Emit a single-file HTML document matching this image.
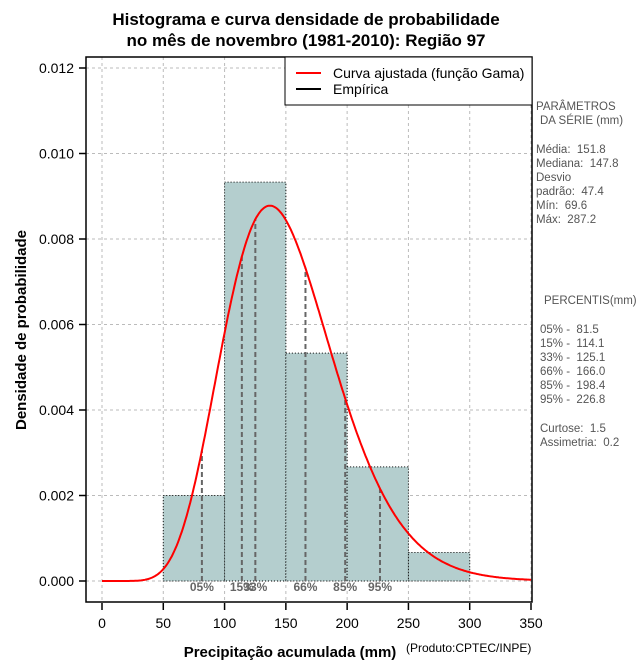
<!DOCTYPE html>
<html><head><meta charset="utf-8"><style>
body{margin:0;background:#fff}
svg{display:block;font-family:"Liberation Sans",sans-serif}
#stats text{white-space:pre}
</style></head><body>
<svg id="c" width="640" height="660">
<text x="306" y="25" font-size="17" font-weight="bold" text-anchor="middle">Histograma e curva densidade de probabilidade</text>
<text x="306" y="46" font-size="17" font-weight="bold" text-anchor="middle">no mês de novembro (1981-2010): Região 97</text>
<g id="grid"></g><g id="bars"></g><g id="pct"></g>
<path id="curve" fill="none" stroke="#f00" stroke-width="2"></path>
<rect x="86" y="57" width="446" height="545" fill="none" stroke="#000" stroke-width="1.5"/>
<g id="axes"></g>
<g>
<rect x="285" y="57" width="247" height="48" fill="#fff" stroke="#000"/>
<line x1="296" y1="73" x2="321" y2="73" stroke="#f00" stroke-width="2"/>
<text x="333" y="78" font-size="14">Curva ajustada (função Gama)</text>
<line x1="296" y1="89" x2="321" y2="89" stroke="#000" stroke-width="2"/>
<text x="333" y="94" font-size="14">Empírica</text>
</g>
<g id="stats" font-size="11.5" fill="#555">
<text x="536" y="110">PARÂMETROS</text><text x="540" y="124">DA SÉRIE (mm)</text>
<text x="536" y="153">Média:  151.8</text><text x="536" y="167">Mediana:  147.8</text>
<text x="536" y="181">Desvio</text><text x="536" y="195">padrão:  47.4</text>
<text x="536" y="209">Mín:  69.6</text><text x="536" y="223">Máx:  287.2</text>
<text x="544" y="304">PERCENTIS(mm)</text>
<text x="540" y="333">05% -  81.5</text><text x="540" y="347">15% -  114.1</text>
<text x="540" y="361">33% -  125.1</text><text x="540" y="375">66% -  166.0</text>
<text x="540" y="389">85% -  198.4</text><text x="540" y="403">95% -  226.8</text>
<text x="540" y="432">Curtose:  1.5</text><text x="540" y="446">Assimetria:  0.2</text>
</g>
<text x="290" y="657" font-size="15" font-weight="bold" text-anchor="middle">Precipitação acumulada (mm)</text>
<text x="406" y="652" font-size="12">(Produto:CPTEC/INPE)</text>
<text transform="translate(26,330) rotate(-90)" font-size="15" font-weight="bold" text-anchor="middle">Densidade de probabilidade</text>
</svg>
<script>
const binEdges=[50,100,150,200,250,300];
const binDensity=[0.002,0.00933,0.00533,0.00267,0.000667];
const gammaMean=[151.8];
const gammaSd=[47.4];
const pctLabels=["05%","15%","33%","66%","85%","95%"];
const pctValues=[81.5,114.1,125.1,166.0,198.4,226.8];
const xTicks=[0,50,100,150,200,250,300,350];
const yTicks=[0,0.002,0.004,0.006,0.008,0.010,0.012];
const yTickLabels=["0.000","0.002","0.004","0.006","0.008","0.010","0.012"];
const NS="http://www.w3.org/2000/svg";
const X=v=>102+v*(429/350);
const Y=v=>581-v*(513/0.012);
function mk(t,a,p){const e=document.createElementNS(NS,t);for(const k in a)e.setAttribute(k,a[k]);p.appendChild(e);return e;}
const k=Math.pow(gammaMean[0]/gammaSd[0],2),th=gammaSd[0]*gammaSd[0]/gammaMean[0];
function lgam(z){const g=[76.18009172947146,-86.50532032941677,24.01409824083091,-1.231739572450155,0.1208650973866179e-2,-0.5395239384953e-5];let x=z,y=z,t=x+5.5;t-=(x+0.5)*Math.log(t);let s=1.000000000190015;for(const c of g)s+=c/++y;return -t+Math.log(2.5066282746310005*s/x);}
const lg=lgam(k);
const dens=x=>x<=0?0:Math.exp((k-1)*Math.log(x)-x/th-lg-k*Math.log(th));
const grid=document.getElementById('grid');
xTicks.forEach(t=>{const l=mk('line',{x1:X(t),x2:X(t),y1:57,y2:601,stroke:'#bbb','stroke-dasharray':'3,3'},grid);

});
yTicks.forEach(t=>{const l=mk('line',{x1:86,x2:532,y1:Y(t),y2:Y(t),stroke:'#bbb','stroke-dasharray':'3,3'},grid);

});
const bars=document.getElementById('bars');
binDensity.forEach((d,i)=>{const r=mk('rect',{x:X(binEdges[i]),y:Y(d),width:X(binEdges[i+1])-X(binEdges[i]),height:Y(0)-Y(d),fill:'#b4cece',stroke:'#000','stroke-dasharray':'1,2'},bars);

});
const pg=document.getElementById('pct');
pctValues.forEach((v,i)=>{const l=mk('line',{x1:X(v),x2:X(v),y1:Y(0),y2:Y(dens(v)),stroke:'#666','stroke-width':2,'stroke-dasharray':'5,3'},pg);


const t=mk('text',{x:X(v),y:591,'font-size':12,'font-weight':'bold',fill:'#666','text-anchor':'middle'},pg);t.textContent=pctLabels[i];

});
let d='';for(let x=0;x<=350;x+=1)d+=(x?'L':'M')+X(x).toFixed(1)+','+Y(dens(x)).toFixed(1);
document.getElementById('curve').setAttribute('d',d);
const ax=document.getElementById('axes');
xTicks.forEach(t=>{mk('line',{x1:X(t),x2:X(t),y1:603,y2:610,stroke:'#000','stroke-width':1.5},ax);
const e=mk('text',{x:X(t),y:628,'font-size':14,'text-anchor':'middle'},ax);e.textContent=t;

});
yTicks.forEach((t,i)=>{mk('line',{x1:79,x2:86,y1:Y(t),y2:Y(t),stroke:'#000','stroke-width':1.5},ax);
const e=mk('text',{x:74,y:Y(t)+5,'font-size':14,'text-anchor':'end'},ax);e.textContent=yTickLabels[i];

});
</script>
</body></html>
